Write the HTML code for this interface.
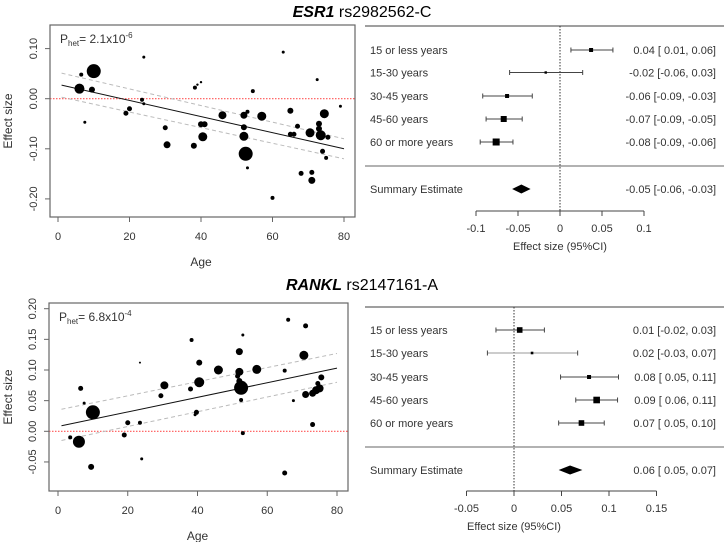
<!DOCTYPE html>
<html><head><meta charset="utf-8"><style>
body{margin:0;background:#fff;width:724px;height:542px;overflow:hidden}
svg{display:block}
text{font-family:"Liberation Sans",sans-serif;fill:#333}
.tt{font-family:"Liberation Sans",sans-serif;font-size:16px;fill:#000}
</style></head><body>
<svg id="c" width="724" height="542">
<text class="tt" x="362" y="17" text-anchor="middle"><tspan font-weight="bold" font-style="italic">ESR1</tspan> rs2982562-C</text>
<text class="tt" x="362" y="290" text-anchor="middle"><tspan font-weight="bold" font-style="italic">RANKL</tspan> rs2147161-A</text>
</svg>
<script>
// ---- Scatter data: ESR1 ----
const esrAge=[6,10,6.5,9.5,7.5,19,20,23.5,24,24,30,30.5,38,38.3,39,40,40,41,40.5,46,52,53,52,52,52.5,53,54.5,57,60,63,65,65,66,67,68,70.5,71,71,72.5,73,73,73.5,74,74.5,75,75.5,79];
const esrEff=[0.02,0.055,0.048,0.018,-0.047,-0.029,-0.02,-0.002,0.083,-0.01,-0.058,-0.092,-0.094,0.022,0.028,0.033,-0.051,-0.051,-0.076,-0.033,-0.033,-0.026,-0.057,-0.075,-0.11,-0.138,0.015,-0.035,-0.198,0.093,-0.024,-0.071,-0.071,-0.055,-0.149,-0.068,-0.147,-0.163,0.038,-0.05,-0.06,-0.073,-0.105,-0.03,-0.118,-0.077,-0.015];
const esrWt=[5,7,2,3,1.5,2.5,2.5,2,1.5,1.5,2.5,3.5,3,2,1.2,1.2,3,3,4.5,4,3.5,2,3,4.5,7,1.5,2,4.5,2,1.5,3,2.5,2.5,2.5,2.5,4.5,2.5,3.5,1.5,3,3,5,2.5,4.5,2,2.5,1.5];
const esrFit=[0.027,-0.100], esrUp=[0.051,-0.080], esrLo=[0.003,-0.120];
const esrYTicks=[0.10,0.00,-0.10,-0.20];
// ---- Scatter data: RANKL ----
const rnkAge=[3.5,6,6.5,7.5,9.5,10,19,20,23.5,23.5,24,29.5,30.5,38,38.3,39.3,39.7,40.5,40.5,46,51.5,52,52,52,52.5,52.5,53,53,57,65,65,66,67.5,70.5,71,71,73,73,74,74.5,75,75.5];
const rnkEff=[-0.01,-0.017,0.07,0.046,-0.058,0.031,-0.006,0.014,0.014,0.112,-0.045,0.058,0.075,0.069,0.149,0.027,0.031,0.112,0.08,0.1,0.09,0.13,0.097,0.082,0.071,0.051,-0.003,0.157,0.101,-0.068,0.099,0.182,0.05,0.124,0.172,0.06,0.011,0.062,0.067,0.078,0.07,0.088];
const rnkWt=[2,6,2.5,1.5,3,7,2.5,2.5,2,1,1.5,2.5,4,2.5,2,1.5,2.5,3,5,4.5,2.5,3.5,4,3,7,2,2,1.5,4.5,2.5,2,2,1.5,4.5,2.5,3.5,2.5,3.5,4,2.5,4,3];
const rnkFit=[0.009,0.103], rnkUp=[0.036,0.127], rnkLo=[-0.015,0.080];
const rnkYTicks=[0.20,0.15,0.10,0.05,0.00,-0.05];
const xTicks=[0,20,40,60,80];
// ---- Forest data ----
const groups=["15 or less years","15-30 years","30-45 years","45-60 years","60 or more years"];
const esrEst=[0.037,-0.017,-0.063,-0.067,-0.076], esrCiLo=[0.013,-0.06,-0.092,-0.088,-0.095], esrCiHi=[0.063,0.027,-0.033,-0.045,-0.056], esrBox=[2,1.2,2,3,3.5];
const esrLbl=["0.04 [ 0.01,  0.06]","-0.02 [-0.06,  0.03]","-0.06 [-0.09, -0.03]","-0.07 [-0.09, -0.05]","-0.08 [-0.09, -0.06]"];
const esrSum=[-0.046,-0.057,-0.035], esrSumLbl="-0.05 [-0.06, -0.03]";
const esrFTicks=[-0.1,-0.05,0,0.05,0.1], esrFTickLbl=["-0.1","-0.05","0","0.05","0.1"];
const rnkEst=[0.006,0.019,0.079,0.087,0.071], rnkCiLo=[-0.019,-0.028,0.049,0.065,0.047], rnkCiHi=[0.032,0.067,0.11,0.109,0.095], rnkBox=[2.8,1.3,2,3.3,2.8];
const rnkLbl=["0.01 [-0.02, 0.03]","0.02 [-0.03, 0.07]","0.08 [ 0.05, 0.11]","0.09 [ 0.06, 0.11]","0.07 [ 0.05, 0.10]"];
const rnkSum=[0.059,0.047,0.072], rnkSumLbl="0.06 [ 0.05, 0.07]";
const rnkFTicks=[-0.05,0,0.05,0.1,0.15], rnkFTickLbl=["-0.05","0","0.05","0.1","0.15"];

const svg=document.getElementById('c'), NS='http://www.w3.org/2000/svg';
function mk(tag,at,txt){const e=document.createElementNS(NS,tag);for(const k in at)e.setAttribute(k,at[k]);if(txt!=null)e.textContent=txt;svg.appendChild(e);return e;}

function scatter(p){
  const sx=v=>p.x0+(v-0)*(p.x80-p.x0)/80, sy=v=>p.y0-v*p.ky;
  let e=mk('rect',{x:p.bx,y:p.by,width:p.bw,height:p.bh,fill:'none',stroke:'#666','stroke-width':1.2});
  
  
  e=mk('line',{x1:p.bx,x2:p.bx+p.bw,y1:sy(0),y2:sy(0),stroke:'#f55','stroke-width':1.2,'stroke-dasharray':'1.5,1.5'});
  
  
  const yt=p.yt;
  e=mk('line',{x1:p.bx,x2:p.bx,y1:sy(yt[0]),y2:sy(yt[yt.length-1]),stroke:'#666'});
  
  
  yt.forEach(v=>{
    mk('line',{x1:p.bx-5,x2:p.bx,y1:sy(v),y2:sy(v),stroke:'#666'});
    e=mk('text',{x:0,y:0,'font-size':11,'text-anchor':'middle',transform:`translate(${p.bx-13},${sy(v)}) rotate(-90)`},v.toFixed(2));
    
    
  });
  const axY=p.by+p.bh;
  e=mk('line',{x1:sx(0),x2:sx(80),y1:axY,y2:axY,stroke:'#666'});
  
  
  xTicks.forEach(v=>{
    mk('line',{x1:sx(v),x2:sx(v),y1:axY,y2:axY+5,stroke:'#666'});
    e=mk('text',{x:sx(v),y:axY+23,'font-size':11,'text-anchor':'middle'},String(v));
    
    
  });
  e=mk('text',{x:(sx(0)+sx(80))/2,y:axY+49,'font-size':12,'text-anchor':'middle'},'Age');
  
  
  e=mk('text',{x:0,y:0,'font-size':12,'text-anchor':'middle',transform:`translate(12,${p.by+p.bh/2}) rotate(-90)`},'Effect size');
  
  
  [[p.up,'ci-upper'],[p.lo,'ci-lower']].forEach(([a,n])=>{
    e=mk('line',{x1:sx(1),x2:sx(80),y1:sy(a[0]),y2:sy(a[1]),stroke:'#bbb','stroke-dasharray':'4,3'});
    
    
  });
  e=mk('line',{x1:sx(1),x2:sx(80),y1:sy(p.fit[0]),y2:sy(p.fit[1]),stroke:'#111','stroke-width':1});
  
  
  p.age.forEach((a,i)=>{
    e=mk('circle',{cx:sx(a),cy:sy(p.eff[i]),r:p.wt[i],fill:'#000'});
    
    
  });
  e=mk('text',{x:p.bx+10,y:p.by+18,'font-size':12,fill:'#000'});
  
  
  e.innerHTML=`P<tspan font-size="8" dy="3">het</tspan><tspan dy="-3">= ${p.ptxt}x10</tspan><tspan font-size="8" dy="-5">${p.pexp}</tspan>`;
}
scatter({id:'esr1-scatter',bx:50,by:25,bw:305,bh:192,x0:58,x80:344,y0:98.7,ky:501,yt:esrYTicks,age:esrAge,eff:esrEff,wt:esrWt,fit:esrFit,up:esrUp,lo:esrLo,ptxt:'2.1',pexp:'-6'});
scatter({id:'rankl-scatter',bx:49,by:303,bw:299,bh:188,x0:58,x80:337,y0:431.3,ky:613,yt:rnkYTicks,age:rnkAge,eff:rnkEff,wt:rnkWt,fit:rnkFit,up:rnkUp,lo:rnkLo,ptxt:'6.8',pexp:'-4'});

function forest(p){
  const sx=v=>p.zx+v*p.k;
  let e=mk('line',{x1:365,x2:724,y1:p.top,y2:p.top,stroke:'#666','stroke-width':1.2});
  
  
  e=mk('line',{x1:365,x2:724,y1:p.sep,y2:p.sep,stroke:'#999','stroke-width':1.5});
  
  
  e=mk('line',{x1:sx(0),x2:sx(0),y1:p.top,y2:p.ax,stroke:'#333','stroke-dasharray':'1.5,1.5'});
  
  
  groups.forEach((g,i)=>{
    const y=p.rows[i];
    e=mk('text',{x:370,y:y+4,'font-size':11},g);
    
    
    e=mk('line',{x1:sx(p.lo[i]),x2:sx(p.hi[i]),y1:y,y2:y,stroke:i==1&&p.id.startsWith('rankl')?'#999':'#444'});
    
    
    [p.lo[i],p.hi[i]].forEach(v=>mk('line',{x1:sx(v),x2:sx(v),y1:y-2.5,y2:y+2.5,stroke:'#444'}));
    const b=p.box[i];
    e=mk('rect',{x:sx(p.est[i])-b,y:y-b,width:2*b,height:2*b,fill:'#000'});
    
    
    e=mk('text',{x:716,y:y+4,'font-size':11,'text-anchor':'end'},p.lbl[i]);
    
    
  });
  const ys=p.sumY;
  e=mk('text',{x:370,y:ys+4,'font-size':11},'Summary Estimate');
  
  
  e=mk('polygon',{points:`${sx(p.sum[1])},${ys} ${sx(p.sum[0])},${ys-4.5} ${sx(p.sum[2])},${ys} ${sx(p.sum[0])},${ys+4.5}`,fill:'#000'});
  
  
  e=mk('text',{x:716,y:ys+4,'font-size':11,'text-anchor':'end'},p.sumLbl);
  
  
  const t=p.ticks;
  e=mk('line',{x1:sx(t[0]),x2:sx(t[t.length-1]),y1:p.ax,y2:p.ax,stroke:'#444'});
  
  
  t.forEach((v,i)=>{
    mk('line',{x1:sx(v),x2:sx(v),y1:p.ax,y2:p.ax+5,stroke:'#444'});
    e=mk('text',{x:sx(v),y:p.ax+21,'font-size':11,'text-anchor':'middle'},p.tl[i]);
    
    
  });
  e=mk('text',{x:sx(0),y:p.ax+39,'font-size':11,'text-anchor':'middle'},'Effect size (95%CI)');
  
  
}
forest({id:'esr1-forest',top:26,sep:166,ax:211,zx:560,k:840,rows:[50,72.5,96,119,142],sumY:189,est:esrEst,lo:esrCiLo,hi:esrCiHi,box:esrBox,lbl:esrLbl,sum:esrSum,sumLbl:esrSumLbl,ticks:esrFTicks,tl:esrFTickLbl});
forest({id:'rankl-forest',top:307,sep:447,ax:491,zx:514,k:950,rows:[330,353,377,400,423],sumY:470,est:rnkEst,lo:rnkCiLo,hi:rnkCiHi,box:rnkBox,lbl:rnkLbl,sum:rnkSum,sumLbl:rnkSumLbl,ticks:rnkFTicks,tl:rnkFTickLbl});
</script>
</body></html>
